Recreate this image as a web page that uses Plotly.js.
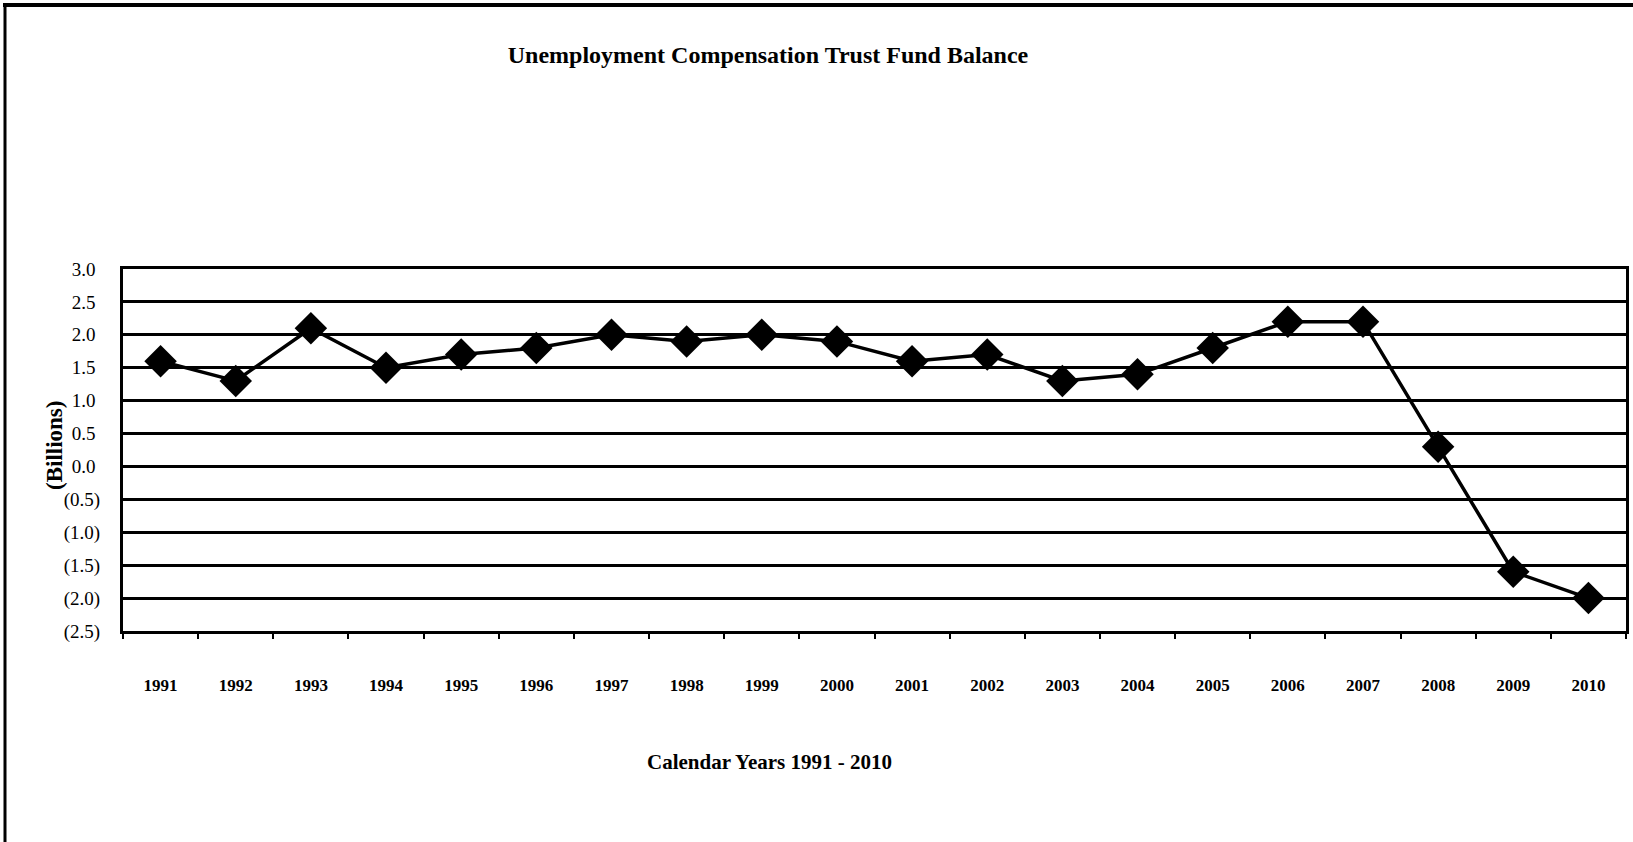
<!DOCTYPE html>
<html>
<head>
<meta charset="utf-8">
<script src="https://cdn.plot.ly/plotly-3.0.1.min.js"></script>
<style>
  html, body { margin: 0; padding: 0; background: #fff; }
  #chart { width: 1633px; height: 842px; }
</style>
</head>
<body>
<div id="chart"></div>
<script>
const years = ['1991','1992','1993','1994','1995','1996','1997','1998','1999','2000',
               '2001','2002','2003','2004','2005','2006','2007','2008','2009','2010'];
const balance = [1.6, 1.3, 2.1, 1.5, 1.7, 1.8, 2.0, 1.9, 2.0, 1.9,
                 1.6, 1.7, 1.3, 1.4, 1.8, 2.2, 2.2, 0.3, -1.6, -2.0];
const yTickVals = [3.0, 2.5, 2.0, 1.5, 1.0, 0.5, 0.0, -0.5, -1.0, -1.5, -2.0, -2.5];
const yTickText = ['3.0','2.5','2.0','1.5','1.0','0.5','0.0','(0.5)','(1.0)','(1.5)','(2.0)','(2.5)'];
const chartTitle = 'Unemployment Compensation Trust Fund Balance';
const xTitle = 'Calendar Years 1991 - 2010';
const yTitle = '(Billions)';

const W = 1633, H = 842;
const M = {l: 123, r: 7, t: 269, b: 211};
const plotW = W - M.l - M.r, plotH = H - M.t - M.b;
const px2x = p => (p - M.l) / plotW;
const py2y = p => (H - M.b - p) / plotH;

const serif = 'Liberation Serif, Times New Roman, serif';

// accounting-style labels: positive numbers keep a trailing gap where ")" would be
const yTickShown = yTickText.map(t => t.endsWith(')') ? t : t + '\u2008');

const trace = {
  x: years,
  y: balance,
  type: 'scatter',
  mode: 'lines+markers',
  line: {color: '#000', width: 3.5},
  marker: {symbol: 'diamond', size: 25, color: '#000'},
  hoverinfo: 'x+y'
};

const layout = {
  width: W, height: H,
  margin: M,
  paper_bgcolor: '#fff',
  plot_bgcolor: '#fff',
  showlegend: false,
  title: {
    text: '<b>' + chartTitle + '</b>',
    font: {family: serif, size: 24, color: '#000'},
    x: 768 / W, xref: 'container', xanchor: 'center',
    y: 1 - 55 / H, yref: 'container', yanchor: 'middle'
  },
  xaxis: {
    type: 'category',
    range: [-0.5, 19.5],
    showgrid: false,
    zeroline: false,
    showline: true, linecolor: '#000', linewidth: 3, mirror: true,
    ticks: 'outside', ticklen: 5, tickwidth: 2, tickcolor: '#000',
    tickson: 'boundaries',
    ticklabelstandoff: 37,
    tickfont: {family: serif, size: 17, color: '#000', weight: 'bold'}
  },
  yaxis: {
    range: [-2.5, 3.0],
    tickvals: yTickVals,
    ticktext: yTickShown,
    showgrid: true, gridcolor: '#000', gridwidth: 3,
    zeroline: false,
    showline: true, linecolor: '#000', linewidth: 3, mirror: true,
    ticks: '',
    ticklabelstandoff: 16,
    tickfont: {family: serif, size: 19, color: '#000'}
  },
  annotations: [
    {
      text: '<b>' + xTitle + '</b>',
      xref: 'paper', yref: 'paper',
      x: px2x(769), y: py2y(762),
      xanchor: 'center', yanchor: 'middle',
      showarrow: false,
      font: {family: serif, size: 21, color: '#000'}
    },
    {
      text: '<b>' + yTitle + '</b>',
      xref: 'paper', yref: 'paper',
      x: px2x(54), y: py2y(446),
      xanchor: 'center', yanchor: 'middle',
      textangle: -90,
      showarrow: false,
      font: {family: serif, size: 23, color: '#000'}
    }
  ],
  shapes: [
    {type: 'line', xref: 'paper', yref: 'paper',
     x0: px2x(5), x1: px2x(5), y0: py2y(3), y1: py2y(H + 5),
     line: {color: '#000', width: 3}},
    {type: 'line', xref: 'paper', yref: 'paper',
     x0: px2x(3), x1: px2x(W + 5), y0: py2y(5), y1: py2y(5),
     line: {color: '#000', width: 4}}
  ]
};

Plotly.newPlot('chart', [trace], layout, {displayModeBar: false, staticPlot: true});
</script>
</body>
</html>
